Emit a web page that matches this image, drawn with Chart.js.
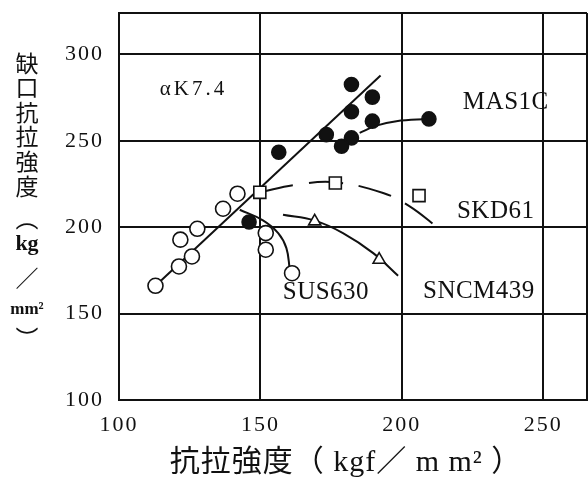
<!DOCTYPE html>
<html>
<head>
<meta charset="utf-8">
<script src="https://cdn.jsdelivr.net/npm/chart.js@4.4.1/dist/chart.umd.min.js"></script>
<style>
  html, body { margin: 0; padding: 0; background: #fff; overflow: hidden; }
  #wrap { width: 588px; height: 480px; position: relative; }
  #chart { display: block; }
</style>
</head>
<body>
<div id="wrap"><canvas id="chart"></canvas></div>
<script>
// tick values
const xTicks = [100, 150, 200, 250];
const yTicks = [100, 150, 200, 250, 300];

// MAS1C, filled circles
const masX = [182.2, 189.6, 182.2, 189.6, 209.6, 173.3, 182.2, 178.7, 156.5, 146.0];
const masY = [282.6, 275.3, 266.8, 261.4, 262.7, 253.6, 251.7, 246.9, 243.4, 203.0];
// SUS630, open circles
const susX = [112.9, 121.2, 125.8, 121.7, 127.7, 136.8, 141.9, 151.9, 151.9, 161.2];
const susY = [166.1, 177.3, 183.1, 192.8, 199.1, 210.7, 219.4, 196.6, 187.0, 173.4];
// SKD61, open squares
const skdX = [149.8, 176.5, 206.1];
const skdY = [220.2, 225.6, 218.3];
// SNCM439, open triangles
const sncmX = [169.2, 192.0];
const sncmY = [203.4, 181.2];

// curves drawn through the data
const trendX = [112.9, 192.5];
const trendY = [166.1, 287.8];
const masCurveX = [185.1, 191.0, 198.1, 209.6];
const masCurveY = [254.6, 258.8, 261.4, 262.7];
const skdCurveX = [149.8, 162.7, 176.5, 193.4, 202.8, 213.4];
const skdCurveY = [220.2, 224.6, 226.0, 219.8, 212.1, 198.9];
const susCurveX = [142.7, 150.9, 156.3, 159.2, 160.4];
const susCurveY = [210.1, 204.0, 196.6, 187.9, 175.4];
const sncmCurveX = [158.0, 169.2, 179.2, 189.9, 198.7];
const sncmCurveY = [207.2, 203.8, 196.6, 185.0, 171.9];

// text labels inside the plot (data coords of left edge / middle)
const labels = [
  { text: 'αK7.4', x: 114.4, y: 279.7, size: 21, spacing: 3 },
  { text: 'MAS1C', x: 221.6, y: 272.2, size: 25, spacing: 0.5 },
  { text: 'SKD61', x: 219.5, y: 208.9, size: 25, spacing: 0.5 },
  { text: 'SNCM439', x: 207.5, y: 163.1, size: 25, spacing: 0.5 },
  { text: 'SUS630', x: 157.9, y: 162.0, size: 25, spacing: 0.5 }
];

const yTitle = ['缺', '口', '抗', '拉', '強', '度', '︵', 'kg', '／', 'mm²', '︶'];
const xTitle = '抗拉強度（ kgf／ m m² ）';

const X_MAX = 265.5;
const Y_MAX = 324;
const INK = '#111';

const toPts = (xs, ys) => xs.map((x, i) => ({ x: x, y: ys[i] }));

const markerSet = (data, style, filled, radius) => ({
  data: data,
  showLine: false,
  pointStyle: style,
  pointRadius: radius,
  pointHoverRadius: radius,
  pointBorderWidth: 1.6,
  pointBorderColor: INK,
  pointBackgroundColor: filled ? INK : '#fff'
});

const lineSet = (data, dash, tension) => ({
  data: data,
  showLine: true,
  borderColor: INK,
  borderWidth: 2,
  borderDash: dash,
  tension: tension,
  pointRadius: 0,
  pointHoverRadius: 0
});

const drawText = {
  id: 'drawText',
  beforeDraw(chart) {
    chart.ctx.letterSpacing = '2px';
  },
  afterDraw(chart) {
    const ctx = chart.ctx;
    const xs = chart.scales.x, ys = chart.scales.y;
    ctx.save();
    ctx.fillStyle = INK;
    ctx.textBaseline = 'middle';
    ctx.textAlign = 'left';
    labels.forEach(l => {
      ctx.font = l.size + 'px "Liberation Serif"';
      ctx.letterSpacing = l.spacing + 'px';
      ctx.fillText(l.text, xs.getPixelForValue(l.x), ys.getPixelForValue(l.y));
    });

    // y title, stacked vertically
    ctx.textAlign = 'center';
    ctx.letterSpacing = '0px';
    const yPos = [63, 87, 112, 136, 161, 186, 218, 244, 278, 310, 338];
    yTitle.forEach((c, i) => {
      if (c === 'kg') ctx.font = 'bold 22px "Liberation Serif"';
      else if (c === 'mm²') ctx.font = 'bold 17px "Liberation Serif"';
      else ctx.font = '23px "Noto Sans CJK JP"';
      ctx.fillText(c, 27, yPos[i]);
    });

    // x title
    ctx.font = '30px "Liberation Serif", "Noto Sans CJK JP"';
    ctx.letterSpacing = '1px';
    ctx.fillText(xTitle, 346, 463);
    ctx.restore();
  }
};

new Chart(document.getElementById('chart'), {
  type: 'scatter',
  data: {
    datasets: [
      markerSet(toPts(masX, masY), 'circle', true, 7),
      markerSet(toPts(susX, susY), 'circle', false, 7.5),
      markerSet(toPts(skdX, skdY), 'rect', false, 8.5),
      markerSet(toPts(sncmX, sncmY), 'triangle', false, 7),
      lineSet(toPts(trendX, trendY), [], 0),
      lineSet(toPts(masCurveX, masCurveY), [], 0.4),
      lineSet(toPts(skdCurveX, skdCurveY), [34, 16], 0.4),
      lineSet(toPts(susCurveX, susCurveY), [], 0.4),
      lineSet(toPts(sncmCurveX, sncmCurveY), [], 0.4)
    ]
  },
  options: {
    responsive: true,
    maintainAspectRatio: false,
    animation: false,
    events: [],
    layout: { autoPadding: false, padding: { top: 13, right: 1, left: 0, bottom: 0 } },
    plugins: {
      legend: { display: false },
      tooltip: { enabled: false }
    },
    scales: {
      x: {
        type: 'linear',
        min: 100,
        max: X_MAX,
        afterBuildTicks: axis => {
          axis.ticks = xTicks.concat([X_MAX]).map(v => ({ value: v }));
        },
        afterFit: axis => {
          axis.height = 80;
          axis.paddingLeft = 0;
          axis.paddingRight = 0;
        },
        ticks: {
          autoSkip: false,
          maxRotation: 0,
          padding: 12,
          color: INK,
          font: { family: 'Liberation Serif', size: 22 },
          callback: v => (xTicks.includes(v) ? v : '')
        },
        grid: { color: INK, lineWidth: 2, drawTicks: false },
        border: { color: INK, width: 2 }
      },
      y: {
        type: 'linear',
        min: 100,
        max: Y_MAX,
        afterBuildTicks: axis => {
          axis.ticks = yTicks.concat([Y_MAX]).map(v => ({ value: v }));
        },
        afterFit: axis => {
          axis.width = 119;
          axis.paddingTop = 0;
          axis.paddingBottom = 0;
        },
        ticks: {
          autoSkip: false,
          padding: 15,
          color: INK,
          font: { family: 'Liberation Serif', size: 22 },
          callback: v => (yTicks.includes(v) ? v : '')
        },
        grid: { color: INK, lineWidth: 2, drawTicks: false },
        border: { color: INK, width: 2 }
      }
    }
  },
  plugins: [drawText]
});
</script>
</body>
</html>
